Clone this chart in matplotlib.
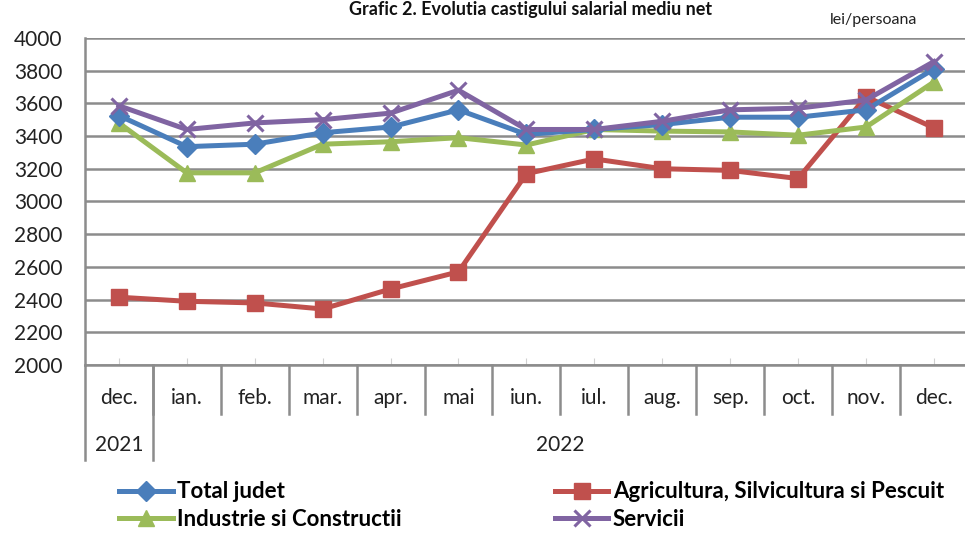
import numpy as np
from matplotlib import pyplot as plt

plt.rcParams['font.family'] = ['Lato', 'DejaVu Sans']

months = ["dec.", "ian.", "feb.", "mar.", "apr.", "mai", "iun.", "iul.",
          "aug.", "sep.", "oct.", "nov.", "dec."]
years = ["2021", "2022"]
year_span = [1, 12]  # number of months belonging to each year

total_judet = [3525, 3335, 3350, 3420, 3455, 3560, 3410, 3440, 3470, 3515, 3515, 3560, 3810]
agricultura = [2415, 2390, 2380, 2343, 2465, 2570, 3170, 3260, 3200, 3190, 3140, 3640, 3450]
industrie = [3480, 3175, 3175, 3350, 3365, 3390, 3345, 3440, 3430, 3425, 3405, 3455, 3730]
servicii = [3585, 3440, 3480, 3500, 3540, 3680, 3440, 3440, 3490, 3560, 3570, 3620, 3855]

blue = "#4a7ebb"
red = "#c0504d"
green = "#9bbb59"
purple = "#8064a2"
gridc = "#8c8c8c"

fig = plt.figure(figsize=(9.65, 5.33), dpi=100)
ax = fig.add_axes([0.088, 0.315, 0.915, 0.614])

x = np.arange(len(months))
lw = 3.6
l_tot, = ax.plot(x, total_judet, color=blue, lw=lw, marker="D", ms=10, label="Total judet", zorder=4)
l_agr, = ax.plot(x, agricultura, color=red, lw=lw, marker="s", ms=11, label="Agricultura, Silvicultura si Pescuit", zorder=3)
l_ind, = ax.plot(x, industrie, color=green, lw=lw, marker="^", ms=12, label="Industrie si Constructii", zorder=3)
l_ser, = ax.plot(x, servicii, color=purple, lw=lw, marker="x", ms=12, mew=2.2, label="Servicii", zorder=5)

ax.set_xlim(-0.5, len(months) - 0.5)
ax.set_ylim(2000, 4000)
ax.set_yticks(np.arange(2000, 4001, 200))
ax.yaxis.grid(True, color=gridc, lw=1.8)
ax.set_axisbelow(True)
for s in ["top", "right"]:
    ax.spines[s].set_visible(False)
ax.spines["left"].set_color(gridc)
ax.spines["left"].set_linewidth(1.8)
ax.spines["bottom"].set_color(gridc)
ax.spines["bottom"].set_linewidth(1.8)
ax.tick_params(axis="y", length=0, pad=16, labelsize=15, colors="#222222")
ax.set_xticks(x)
ax.set_xticklabels([])
ax.tick_params(axis="x", direction="in", length=5, color="#d0d0d0")

# multi-level category labels
trans = ax.get_xaxis_transform()
for i, m in enumerate(months):
    ax.text(i, -0.1, m, transform=trans, ha="center", va="center", fontsize=15, color="#222222")
for b in np.arange(len(months)) + 0.5:
    ax.plot([b, b], [0, -0.15], transform=trans, color=gridc, lw=1.8, clip_on=False)
ax.plot([-0.5, -0.5], [0, -0.29], transform=trans, color=gridc, lw=1.8, clip_on=False)
start = 0
for yr, n in zip(years, year_span):
    ax.text(start + (n - 1) / 2, -0.245, yr, transform=trans, ha="center", va="center",
            fontsize=15, color="#222222")
    start += n
ax.plot([0.5, 0.5], [0, -0.29], transform=trans, color=gridc, lw=1.8, clip_on=False)

fig.text(0.55, 0.972, "Grafic 2. Evolutia castigului salarial mediu net", ha="center",
         va="baseline", fontsize=13, fontweight="bold", color="#111111")
fig.text(0.905, 0.962, "lei/persoana", ha="center", va="center", fontsize=11.5, color="#222222")

leg = fig.legend(handles=[l_tot, l_ind, l_agr, l_ser], loc="center left",
                 bbox_to_anchor=(0.112, 0.051), ncol=2, frameon=False,
                 prop={"weight": "bold", "size": 16}, handlelength=2.4, handletextpad=0.2,
                 columnspacing=6.9, labelspacing=0.3, borderpad=0)

fig.savefig("out.png", dpi=100)
